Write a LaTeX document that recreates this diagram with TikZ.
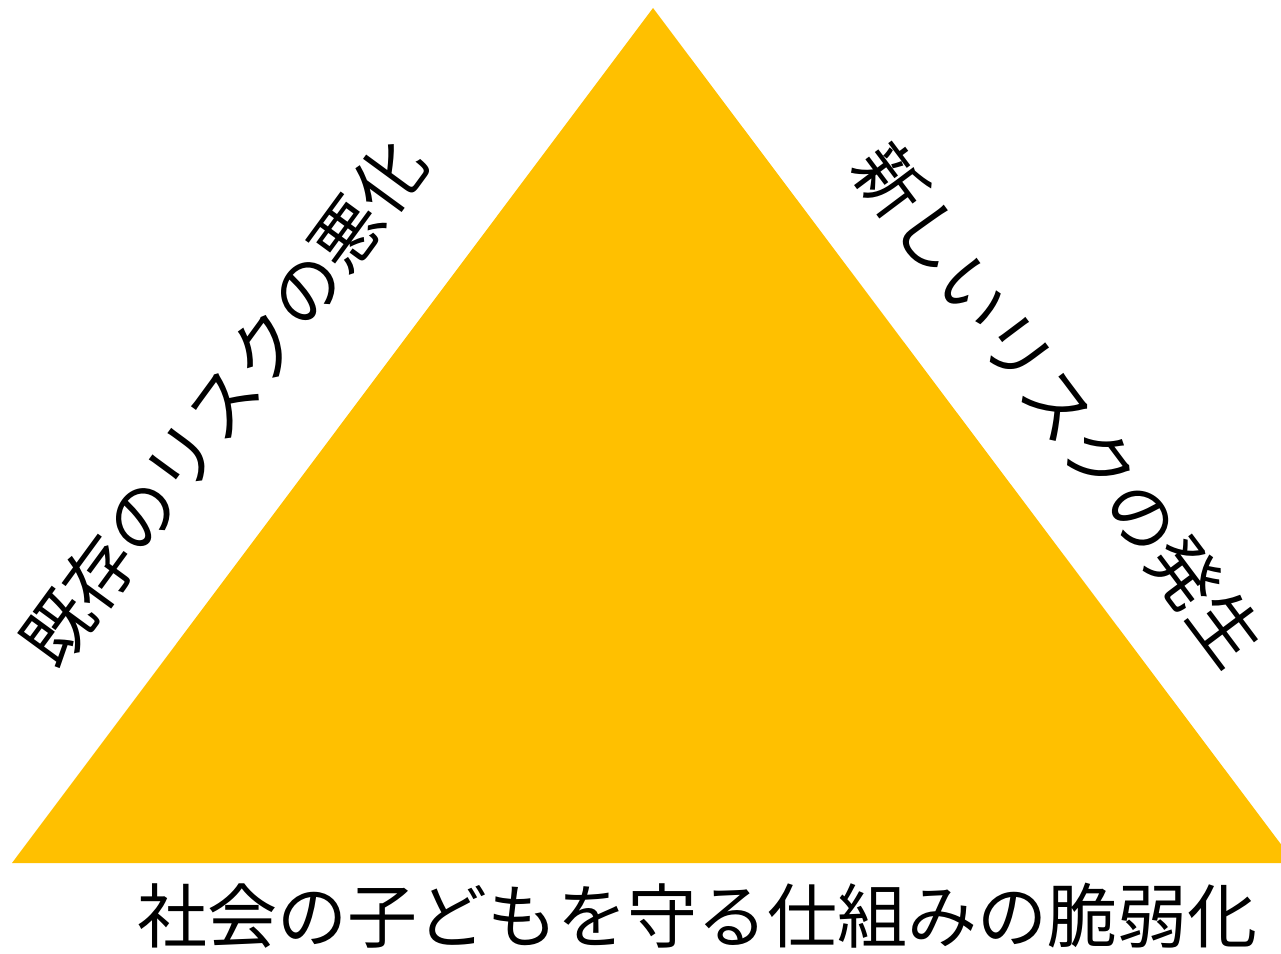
\documentclass[tikz,border=0pt]{standalone}
\usepackage{fontspec}
\newfontfamily\cjk{Noto Sans CJK JP}
\definecolor{gold}{HTML}{FFC000}
\begin{document}
\begin{tikzpicture}[x=1pt,y=1pt,
  lbl/.style={font=\cjk\fontsize{70}{84}\selectfont, inner sep=0pt, text=black}]
\useasboundingbox (0,0) rectangle (1281,953);
\fill[white] (0,0) rectangle (1281,953);
\begin{scope}
\clip (0,0) rectangle (1281,953);
\fill[gold] (653,945) -- (1295,90) -- (12,90) -- cycle;
\end{scope}
\node[lbl, rotate=53.8] (left) at (223,550) {既存のリスクの悪化};
\node[lbl, rotate=-53.1] (right) at (1059,548) {新しいリスクの発生};
\node[lbl] (bottom) at (697,37) {社会の子どもを守る仕組みの脆弱化};
\end{tikzpicture}
\end{document}
